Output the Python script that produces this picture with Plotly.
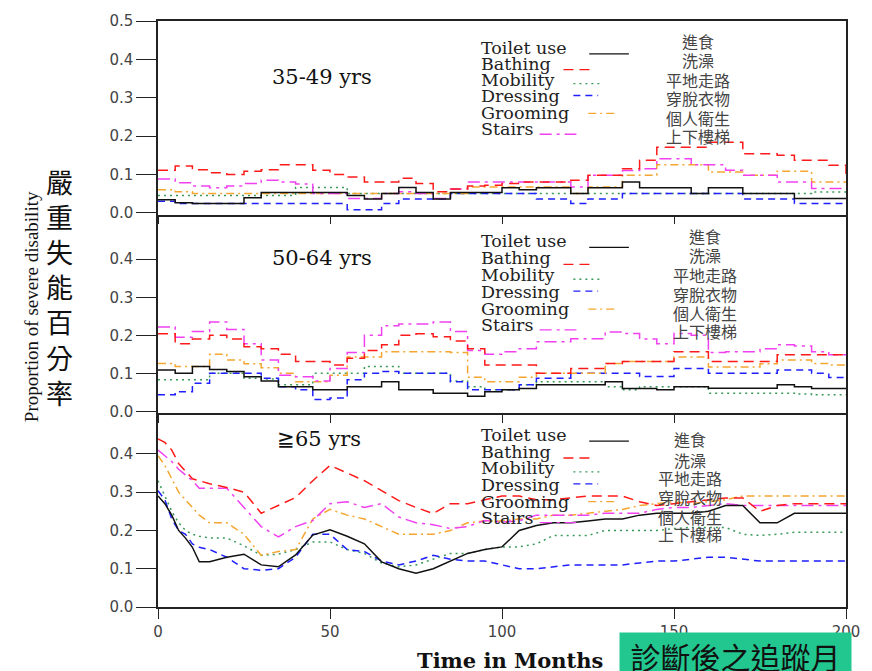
import plotly.graph_objects as go

# ---------------- data ----------------
months_a = list(range(0, 201, 5))
months_c = [0, 2, 4, 6, 8, 10, 12] + list(range(15, 201, 5))

series_names = ["Toilet use", "Bathing", "Mobility", "Dressing", "Grooming", "Stairs"]
series_zh = ["進食", "洗澡", "平地走路", "穿脫衣物", "個人衛生", "上下樓梯"]
panel_titles = ["35-49 yrs", "50-64 yrs", "≧65 yrs"]
x_ticks = [0, 50, 100, 150, 200]
y_ticks_top = [0.0, 0.1, 0.2, 0.3, 0.4, 0.5]
y_ticks_low = [0.0, 0.1, 0.2, 0.3, 0.4]

# 35-49 yrs
p1_toilet = [0.034, 0.026, 0.024, 0.024, 0.024, 0.039, 0.053, 0.053, 0.053, 0.053,
             0.053, 0.045, 0.036, 0.05, 0.066, 0.053, 0.036, 0.053, 0.053, 0.053,
             0.065, 0.06, 0.065, 0.065, 0.05, 0.065, 0.065, 0.08, 0.065, 0.065,
             0.065, 0.05, 0.065, 0.065, 0.05, 0.05, 0.05, 0.037, 0.037, 0.037, 0.037]
p1_bathing = [0.111, 0.122, 0.112, 0.104, 0.1, 0.108, 0.112, 0.125, 0.125, 0.111,
              0.1, 0.093, 0.08, 0.08, 0.09, 0.076, 0.055, 0.062, 0.07, 0.072,
              0.076, 0.08, 0.08, 0.08, 0.085, 0.098, 0.098, 0.115, 0.137, 0.171,
              0.171, 0.171, 0.184, 0.184, 0.154, 0.154, 0.15, 0.137, 0.137, 0.124, 0.098]
p1_mobility = [0.045, 0.045, 0.045, 0.045, 0.045, 0.045, 0.045, 0.045, 0.066, 0.066,
               0.066, 0.05, 0.05, 0.05, 0.05, 0.05, 0.05, 0.05, 0.05, 0.05,
               0.05, 0.05, 0.05, 0.05, 0.05, 0.05, 0.05, 0.05, 0.05, 0.05,
               0.05, 0.05, 0.05, 0.05, 0.05, 0.05, 0.05, 0.05, 0.054, 0.054, 0.054]
p1_dressing = [0.03, 0.024, 0.024, 0.024, 0.024, 0.024, 0.024, 0.024, 0.024, 0.024,
               0.024, 0.008, 0.008, 0.024, 0.036, 0.036, 0.036, 0.05, 0.05, 0.05,
               0.05, 0.05, 0.036, 0.036, 0.024, 0.036, 0.036, 0.05, 0.05, 0.05,
               0.05, 0.05, 0.05, 0.05, 0.036, 0.036, 0.036, 0.024, 0.024, 0.024, 0.024]
p1_grooming = [0.06, 0.055, 0.05, 0.05, 0.05, 0.05, 0.05, 0.05, 0.05, 0.05,
               0.05, 0.05, 0.05, 0.05, 0.05, 0.05, 0.05, 0.05, 0.067, 0.067,
               0.067, 0.067, 0.067, 0.067, 0.05, 0.067, 0.067, 0.098, 0.098, 0.125,
               0.125, 0.125, 0.106, 0.106, 0.098, 0.098, 0.108, 0.108, 0.08, 0.08, 0.08]
p1_stairs = [0.088, 0.078, 0.07, 0.065, 0.07, 0.076, 0.085, 0.08, 0.075, 0.05,
             0.05, 0.037, 0.037, 0.05, 0.055, 0.05, 0.037, 0.062, 0.08, 0.08,
             0.08, 0.08, 0.08, 0.08, 0.067, 0.098, 0.098, 0.11, 0.115, 0.141,
             0.141, 0.125, 0.125, 0.111, 0.098, 0.098, 0.08, 0.08, 0.063, 0.063, 0.063]

# 50-64 yrs
p2_toilet = [0.109, 0.1, 0.118, 0.11, 0.105, 0.091, 0.08, 0.065, 0.065, 0.057,
             0.057, 0.065, 0.065, 0.078, 0.057, 0.057, 0.048, 0.048, 0.04, 0.052,
             0.057, 0.06, 0.07, 0.07, 0.07, 0.07, 0.078, 0.06, 0.06, 0.057,
             0.065, 0.065, 0.061, 0.061, 0.061, 0.061, 0.07, 0.065, 0.06, 0.06, 0.06]
p2_bathing = [0.204, 0.178, 0.19, 0.2, 0.19, 0.17, 0.165, 0.15, 0.131, 0.131,
              0.122, 0.14, 0.16, 0.175, 0.2, 0.204, 0.196, 0.185, 0.165, 0.122,
              0.122, 0.122, 0.1, 0.1, 0.113, 0.113, 0.126, 0.131, 0.131, 0.131,
              0.157, 0.157, 0.131, 0.131, 0.131, 0.131, 0.149, 0.149, 0.149, 0.149, 0.149]
p2_mobility = [0.083, 0.083, 0.083, 0.1, 0.1, 0.087, 0.085, 0.07, 0.07, 0.1,
               0.1, 0.1, 0.118, 0.118, 0.1, 0.1, 0.1, 0.08, 0.065, 0.057,
               0.057, 0.07, 0.078, 0.078, 0.078, 0.078, 0.065, 0.057, 0.065, 0.065,
               0.065, 0.065, 0.048, 0.048, 0.048, 0.048, 0.048, 0.046, 0.044, 0.044, 0.044]
p2_dressing = [0.044, 0.052, 0.074, 0.1, 0.1, 0.1, 0.087, 0.065, 0.057, 0.031,
               0.035, 0.083, 0.1, 0.105, 0.1, 0.1, 0.1, 0.078, 0.057, 0.057,
               0.057, 0.07, 0.087, 0.087, 0.1, 0.1, 0.1, 0.1, 0.092, 0.092,
               0.113, 0.113, 0.1, 0.1, 0.1, 0.1, 0.109, 0.109, 0.1, 0.089, 0.089]
p2_grooming = [0.126, 0.118, 0.118, 0.15, 0.135, 0.125, 0.115, 0.1, 0.078, 0.078,
               0.095, 0.143, 0.143, 0.157, 0.157, 0.157, 0.157, 0.155, 0.09, 0.078,
               0.078, 0.09, 0.1, 0.1, 0.1, 0.1, 0.126, 0.131, 0.131, 0.131,
               0.143, 0.143, 0.117, 0.117, 0.117, 0.125, 0.135, 0.135, 0.126, 0.122, 0.122]
p2_stairs = [0.222, 0.195, 0.21, 0.235, 0.215, 0.178, 0.135, 0.095, 0.091, 0.08,
             0.113, 0.155, 0.2, 0.225, 0.23, 0.23, 0.235, 0.21, 0.16, 0.15,
             0.157, 0.165, 0.183, 0.183, 0.191, 0.191, 0.209, 0.205, 0.19, 0.178,
             0.205, 0.2, 0.155, 0.157, 0.157, 0.165, 0.175, 0.172, 0.157, 0.149, 0.149]

# >=65 yrs
p3_toilet = [0.29, 0.27, 0.24, 0.2, 0.18, 0.156, 0.118,
             0.118, 0.13, 0.138, 0.11, 0.105, 0.136, 0.188, 0.202, 0.185, 0.165,
             0.118, 0.1, 0.088, 0.1, 0.12, 0.14, 0.15, 0.157, 0.2, 0.213,
             0.22, 0.22, 0.225, 0.23, 0.23, 0.24, 0.245, 0.245, 0.245, 0.25,
             0.265, 0.265, 0.22, 0.22, 0.245, 0.245, 0.245, 0.245]
p3_bathing = [0.439, 0.43, 0.41, 0.375, 0.355, 0.335, 0.33,
              0.322, 0.312, 0.3, 0.245, 0.265, 0.286, 0.33, 0.37, 0.35, 0.33,
              0.304, 0.278, 0.26, 0.244, 0.27, 0.27, 0.28, 0.29, 0.29, 0.28,
              0.28, 0.285, 0.29, 0.29, 0.29, 0.275, 0.265, 0.27, 0.275, 0.28,
              0.285, 0.285, 0.25, 0.265, 0.27, 0.27, 0.27, 0.27]
p3_mobility = [0.33, 0.29, 0.25, 0.22, 0.2, 0.19, 0.185,
               0.18, 0.18, 0.16, 0.135, 0.138, 0.15, 0.17, 0.17, 0.15, 0.14,
               0.115, 0.105, 0.11, 0.125, 0.14, 0.14, 0.15, 0.157, 0.157, 0.165,
               0.187, 0.187, 0.187, 0.2, 0.2, 0.2, 0.2, 0.205, 0.208, 0.208,
               0.208, 0.19, 0.187, 0.19, 0.195, 0.195, 0.195, 0.195]
p3_dressing = [0.304, 0.28, 0.23, 0.2, 0.19, 0.165, 0.156,
               0.15, 0.13, 0.1, 0.096, 0.1, 0.13, 0.19, 0.19, 0.15, 0.145,
               0.12, 0.11, 0.12, 0.135, 0.125, 0.12, 0.12, 0.11, 0.1, 0.1,
               0.105, 0.11, 0.11, 0.11, 0.11, 0.115, 0.12, 0.12, 0.125, 0.13,
               0.13, 0.125, 0.12, 0.12, 0.12, 0.12, 0.12, 0.12]
p3_grooming = [0.395, 0.37, 0.335, 0.3, 0.28, 0.26, 0.24,
               0.22, 0.22, 0.19, 0.135, 0.145, 0.15, 0.23, 0.255, 0.24, 0.23,
               0.21, 0.19, 0.19, 0.19, 0.2, 0.22, 0.225, 0.225, 0.23, 0.23,
               0.24, 0.24, 0.245, 0.25, 0.255, 0.265, 0.27, 0.275, 0.27, 0.275,
               0.28, 0.29, 0.29, 0.29, 0.29, 0.29, 0.29, 0.29]
p3_stairs = [0.41, 0.395, 0.38, 0.36, 0.345, 0.33, 0.31,
             0.31, 0.31, 0.26, 0.21, 0.183, 0.21, 0.226, 0.27, 0.275, 0.26,
             0.27, 0.235, 0.22, 0.215, 0.205, 0.21, 0.226, 0.222, 0.225, 0.24,
             0.24, 0.24, 0.24, 0.245, 0.245, 0.245, 0.255, 0.26, 0.26, 0.265,
             0.27, 0.265, 0.265, 0.265, 0.265, 0.265, 0.265, 0.265]

# ---------------- styles ----------------
colors = ["#111111", "#ff1a1a", "#3a9a5a", "#1f1fff", "#f5a630", "#f040f0"]
dashes = ["solid", "10px,6px", "2px,4px", "7px,5px", "8px,4px,2px,4px", "12px,5px,3px,5px"]

panels = [
    (months_a, [p1_toilet, p1_bathing, p1_mobility, p1_dressing, p1_grooming, p1_stairs], "x", "y", "hv"),
    (months_a, [p2_toilet, p2_bathing, p2_mobility, p2_dressing, p2_grooming, p2_stairs], "x2", "y2", "hv"),
    (months_c, [p3_toilet, p3_bathing, p3_mobility, p3_dressing, p3_grooming, p3_stairs], "x3", "y3", "linear"),
]

fig = go.Figure()
for xs, ser, xa, ya, shape in panels:
    for i in [2, 3, 4, 5, 1, 0]:
        fig.add_trace(go.Scatter(
            x=xs, y=ser[i], mode="lines", xaxis=xa, yaxis=ya, showlegend=False,
            line=dict(color=colors[i], width=1.5, dash=dashes[i], shape=shape),
            hoverinfo="skip"))

L, R, T, B = 158, 20, 17, 64
W, H = 872, 671
PW, PH = W - L - R, H - T - B


def P(px, py):
    return (px - L) / PW, (H - B - py) / PH


axis_common = dict(showline=True, linecolor="#222", linewidth=1.5,
                   ticks="outside", tickcolor="#222", tickwidth=1.2,
                   showgrid=False, zeroline=False)
tickfont = dict(family="DejaVu Sans", size=15, color="#444")

dom1 = [P(0, 212)[1], 1.0]
dom2 = [P(0, 412)[1], P(0, 212)[1]]
dom3 = [0.0, P(0, 412)[1]]

fig.update_layout(
    width=W, height=H, margin=dict(l=L, r=R, t=T, b=B),
    paper_bgcolor="white", plot_bgcolor="white",
    xaxis=dict(axis_common, mirror=True, domain=[0, 1], range=[0, 200], anchor="y",
               tickvals=x_ticks, showticklabels=False, ticklen=8),
    yaxis=dict(axis_common, mirror=True, domain=dom1, range=[-0.005, 0.5], anchor="x",
               tickvals=y_ticks_top, tickformat=".1f", ticklen=20, tickfont=tickfont),
    xaxis2=dict(axis_common, mirror=False, domain=[0, 1], range=[0, 200], anchor="y2",
                tickvals=x_ticks, showticklabels=False, ticklen=8),
    yaxis2=dict(axis_common, mirror=True, domain=dom2, range=[-0.005, 0.517], anchor="x2",
                tickvals=y_ticks_low, tickformat=".1f", ticklen=20, tickfont=tickfont),
    xaxis3=dict(axis_common, mirror=False, domain=[0, 1], range=[0, 200], anchor="y3",
                tickvals=x_ticks, ticklen=10, tickfont=tickfont),
    yaxis3=dict(axis_common, mirror=True, domain=dom3, range=[0, 0.506], anchor="x3",
                tickvals=y_ticks_low, tickformat=".1f", ticklen=20, tickfont=tickfont),
)

ann = []
shapes = []
serif = "DejaVu Serif"
cjk = "Noto Sans CJK TC"


def add_text(px, py, text, font, xanchor="center", **kw):
    x, y = P(px, py)
    d = dict(x=x, y=y, xref="paper", yref="paper", text=text, showarrow=False,
             xanchor=xanchor, yanchor=kw.pop("yanchor", "middle"), font=font)
    d.update(kw)
    ann.append(d)


# panel titles
for (tx, ty), title in zip([(323, 73), (323, 256), (320, 438)], panel_titles):
    add_text(tx, ty, title, dict(family=serif, size=21, color="#111"))

# legends (english names + line samples + chinese names)
eng_y = [[44, 60, 76, 93, 110, 126], [239, 256, 273, 290, 307, 323], [434, 451, 467, 484, 501, 517]]
sample_dy = [6, 6, 4, -1, 0, 5]
sample_x = [(593, 633), (567, 598), (577, 605), (577, 602), (592, 622), (543, 580)]
zh_x = [703, 710, 695]
zh_y = [[37, 56, 76, 95, 115, 133], [233, 253, 273, 292, 311, 329], [438, 459, 477, 496, 516, 534]]
for p in range(3):
    for i in range(6):
        add_text(482, eng_y[p][i], series_names[i],
                 dict(family=serif, size=17.5, color="#222"), xanchor="left")
        x0, ys = P(sample_x[i][0], eng_y[p][i] + sample_dy[i])
        x1, _ = P(sample_x[i][1], 0)
        shapes.append(dict(type="line", xref="paper", yref="paper", x0=x0, x1=x1, y0=ys, y1=ys,
                           line=dict(color=colors[i], width=1.3, dash=dashes[i])))
        add_text(zh_x[p], zh_y[p][i], series_zh[i], dict(family=cjk, size=16, color="#444"))

# axis titles
add_text(30, 305, "Proportion of severe disability",
         dict(family="Liberation Serif", size=19, color="#111"), textangle=-90)
add_text(59, 285, "<br>".join(list("嚴重失能百分率")),
         dict(family=cjk, size=27, color="#111"))
add_text(513, 661, "<b>Time in Months</b>", dict(family=serif, size=21, color="#111"))
add_text(741, 632, "診斷後之追蹤月", dict(family=cjk, size=30, color="#111"),
         yanchor="top", width=231, height=46, bgcolor="#22c78f", borderpad=0)

fig.update_layout(annotations=ann, shapes=shapes)
fig.write_html("out.html")
